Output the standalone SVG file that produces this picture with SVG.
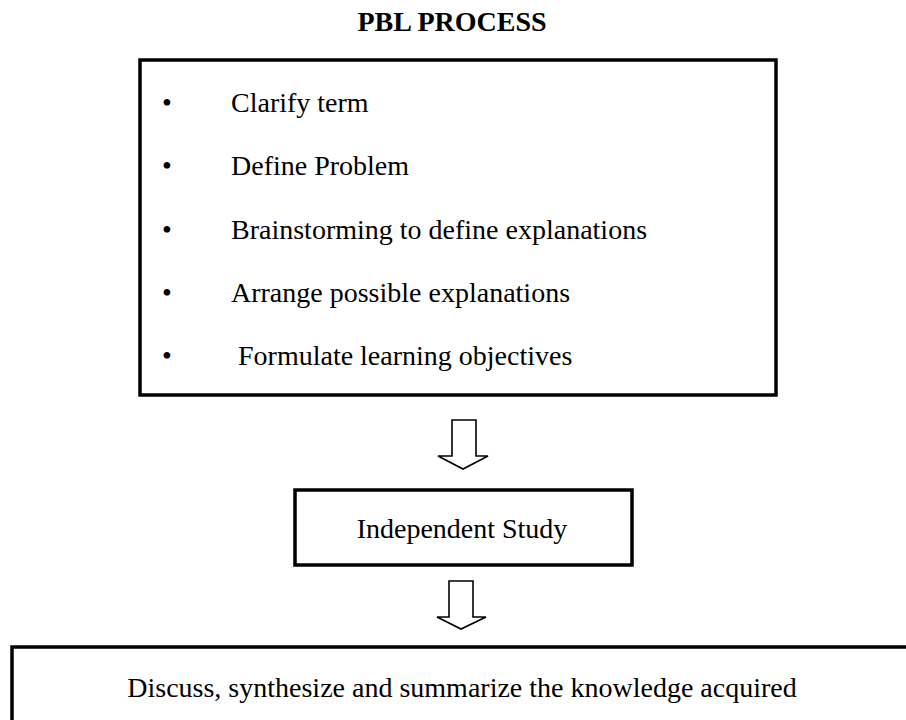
<svg xmlns="http://www.w3.org/2000/svg" width="906" height="720" viewBox="0 0 906 720">
<style>
  .box { fill: #ffffff; stroke: #000000; stroke-width: 3.5; }
  .arrow { fill: #ffffff; stroke: #000000; stroke-width: 1.6; stroke-linejoin: miter; }
  .t { font-family: "Liberation Serif", "Times New Roman", serif; font-size: 28px; fill: #000000; }
  .title { font-weight: bold; text-anchor: middle; }
  .c { text-anchor: middle; }
</style>
<rect width="906" height="720" fill="#ffffff"/>
<text class="t title" x="452" y="31">PBL PROCESS</text>
<g id="steps">
  <rect class="box" x="140" y="60" width="636" height="335"/>
  <text class="t c" x="167" y="112">•</text>
  <text class="t" x="231" y="112">Clarify term</text>
  <text class="t c" x="167" y="175">•</text>
  <text class="t" x="231" y="175">Define Problem</text>
  <text class="t c" x="167" y="239">•</text>
  <text class="t" x="231" y="239">Brainstorming to define explanations</text>
  <text class="t c" x="167" y="302">•</text>
  <text class="t" x="231" y="302">Arrange possible explanations</text>
  <text class="t c" x="167" y="365">•</text>
  <text class="t" x="238" y="365">Formulate learning objectives</text>
</g>
<g id="independent-study">
  <rect class="box" x="295" y="490" width="337" height="75"/>
  <text class="t c" x="462" y="538">Independent Study</text>
</g>
<g id="discuss">
  <rect class="box" x="12" y="647" width="1000" height="200"/>
  <text class="t c" x="462" y="697">Discuss, synthesize and summarize the knowledge acquired</text>
</g>
<g id="connectors">
  <polygon class="arrow" points="452,420 476,420 476,456 488,456 463,469 438,456 452,456"/>
  <polygon class="arrow" points="449,581 473,581 473,617 486,617 461,629 437,617 449,617"/>
</g>
</svg>
